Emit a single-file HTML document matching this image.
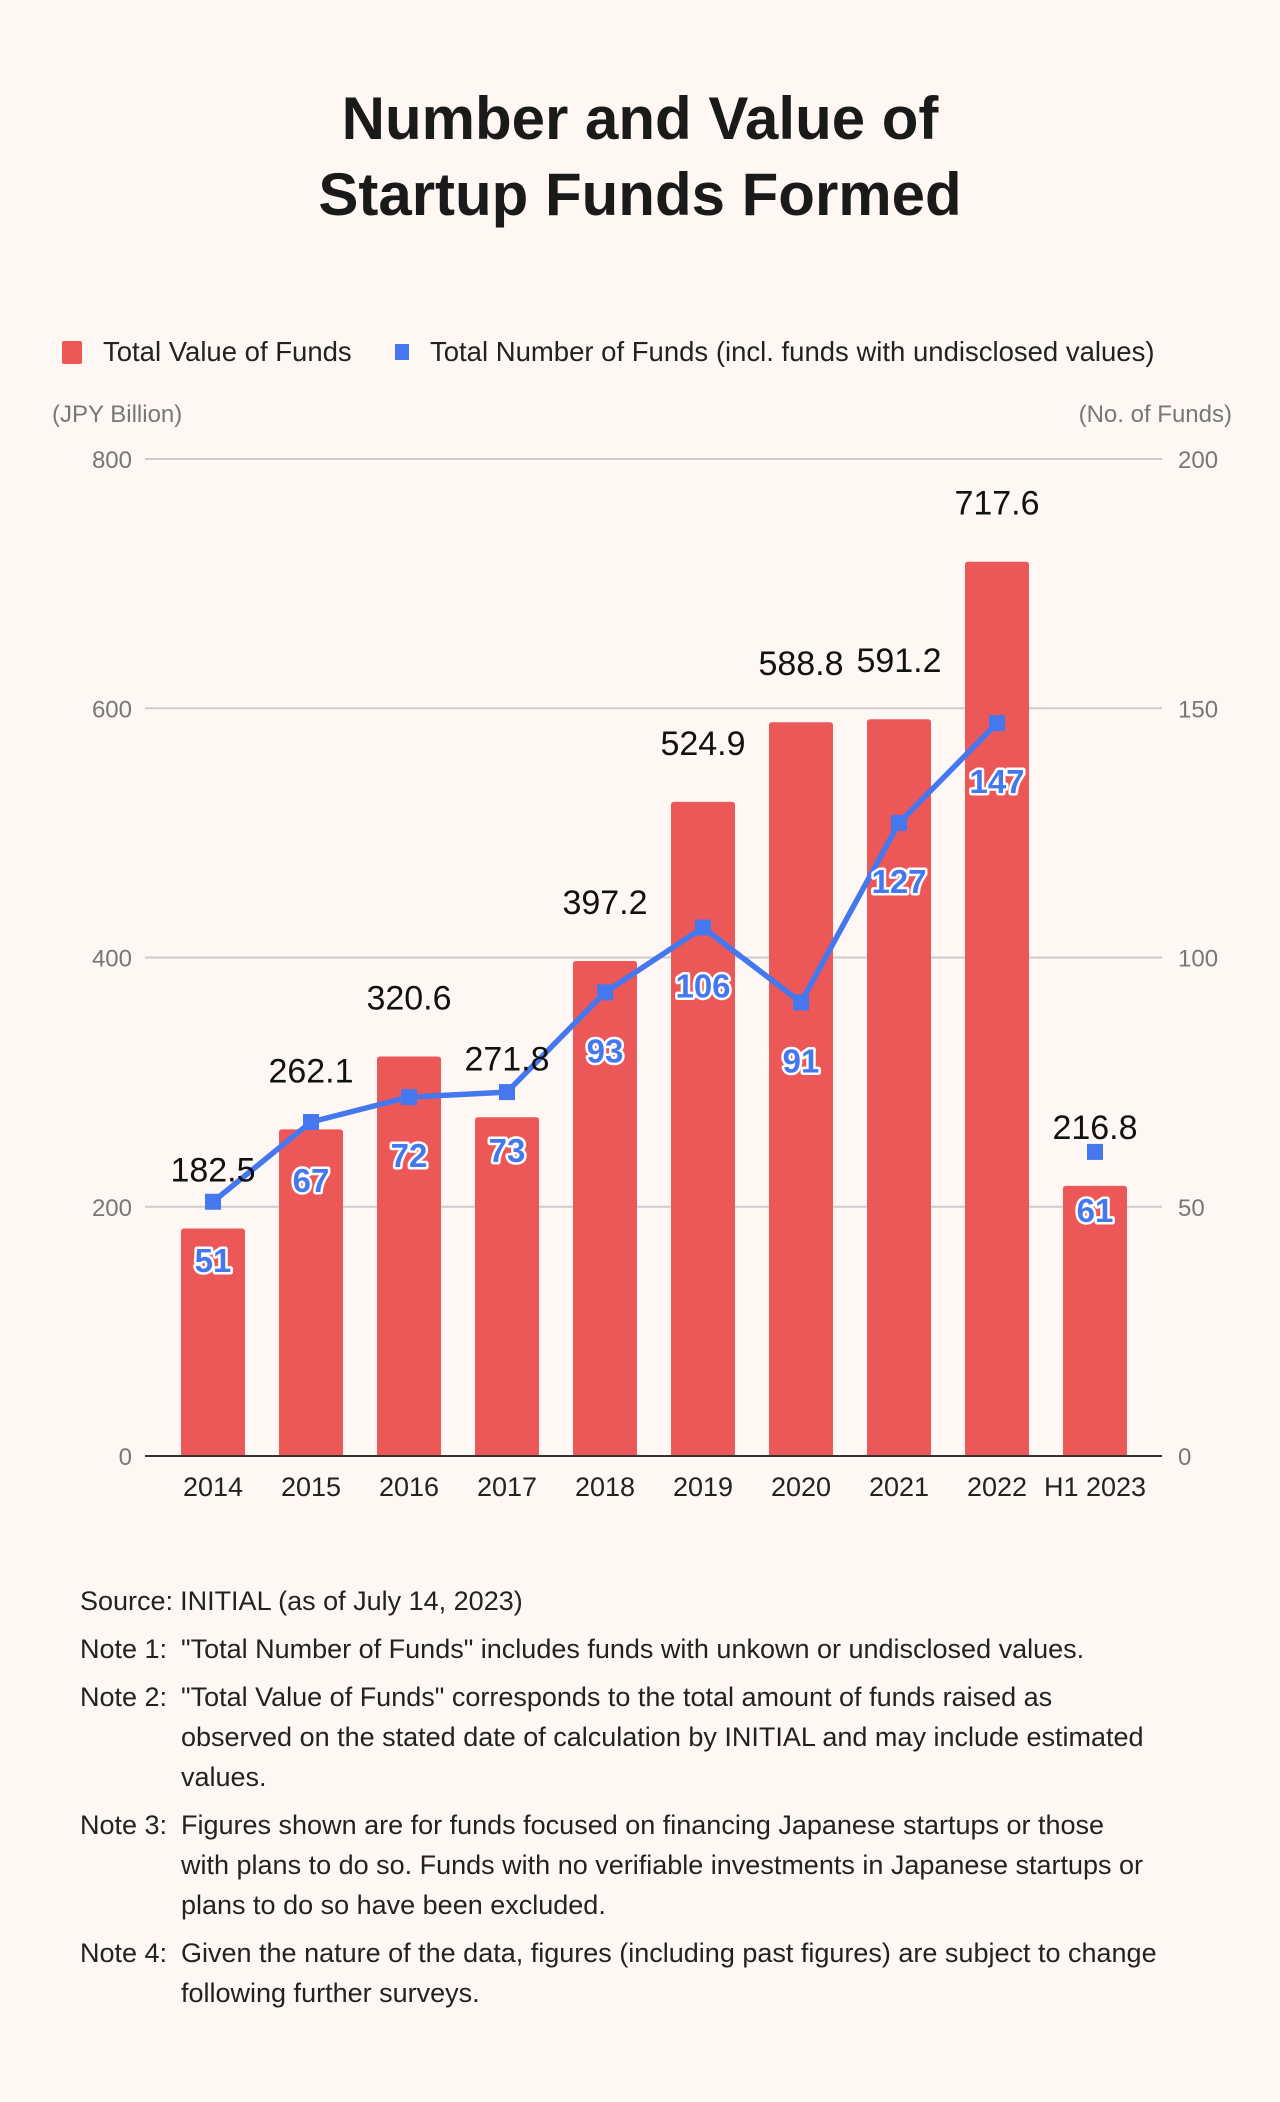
<!DOCTYPE html>
<html><head><meta charset="utf-8">
<style>
html,body{margin:0;padding:0;background:#fff7f4;}
body{width:1280px;height:2102px;position:relative;font-family:"Liberation Sans",sans-serif;color:#222;overflow:hidden;}
.notes{position:absolute;left:80px;top:1581px;font-size:27px;color:#222;width:1180px;}
.note{display:flex;margin-bottom:8px;line-height:40px;}
.note .lab{width:101px;flex:none;white-space:nowrap;}
.note .txt{white-space:nowrap;}
</style></head>
<body>
<svg id="chart" width="1280" height="1560" style="position:absolute;left:0;top:0" font-family="Liberation Sans, sans-serif">
  <text x="640" y="139" text-anchor="middle" font-size="60" font-weight="bold" fill="#1a1a1a">Number and Value of</text>
  <text x="640" y="215" text-anchor="middle" font-size="60" font-weight="bold" fill="#1a1a1a">Startup Funds Formed</text>
  <g>
    <rect x="62" y="341" width="20" height="23" rx="2" fill="#ec5858"/>
    <text x="103" y="361" font-size="27.5" fill="#222">Total Value of Funds</text>
    <rect x="395" y="344" width="14" height="16" fill="#4578ee"/>
    <text x="430" y="361" font-size="27.5" fill="#222">Total Number of Funds (incl. funds with undisclosed values)</text>
  </g>
  <text x="52" y="422" font-size="24" fill="#777">(JPY Billion)</text>
  <text x="1232" y="422" text-anchor="end" font-size="24" fill="#777">(No. of Funds)</text>
  <g id="grid"></g>
  <g id="bars"></g>
  <g id="line"></g>
  <g id="labels"></g>
</svg>
<div class="notes">
  <div class="note"><span class="lab" style="width:auto;margin-right:7px">Source:</span><span>INITIAL (as of July 14, 2023)</span></div>
  <div class="note"><span class="lab">Note 1:</span><span class="txt">"Total Number of Funds" includes funds with unkown or undisclosed values.</span></div>
  <div class="note"><span class="lab">Note 2:</span><span class="txt">"Total Value of Funds" corresponds to the total amount of funds raised as<br>observed on the stated date of calculation by INITIAL and may include estimated<br>values.</span></div>
  <div class="note"><span class="lab">Note 3:</span><span class="txt">Figures shown are for funds focused on financing Japanese startups or those<br>with plans to do so. Funds with no verifiable investments in Japanese startups or<br>plans to do so have been excluded.</span></div>
  <div class="note"><span class="lab">Note 4:</span><span class="txt">Given the nature of the data, figures (including past figures) are subject to change<br>following further surveys.</span></div>
</div>
<script>
const categories = ["2014","2015","2016","2017","2018","2019","2020","2021","2022","H1 2023"];
const values = [182.5,262.1,320.6,271.8,397.2,524.9,588.8,591.2,717.6,216.8];
const counts = [51,67,72,73,93,106,91,127,147,61];
const leftTicks = [0,200,400,600,800];
const rightTicks = [0,50,100,150,200];

const NS="http://www.w3.org/2000/svg";
const X0=164, BAND=98, TOP=459, BOT=1456;
const xc = i => X0 + BAND*i + BAND/2;
const yL = v => BOT - (v/800)*(BOT-TOP);
const yR = v => BOT - (v/200)*(BOT-TOP);
function mk(tag, attrs, parent){const e=document.createElementNS(NS,tag);for(const k in attrs)e.setAttribute(k,attrs[k]);parent.appendChild(e);return e;}

const grid=document.getElementById('grid');
leftTicks.forEach((t,i)=>{
  const y=yL(t);
  if(t>0){const l=mk('line',{x1:145,x2:1162,y1:y,y2:y,stroke:'#cccccc','stroke-width':2},grid);
  
  }
  const a=mk('text',{x:132,y:y+9,'text-anchor':'end','font-size':24,fill:'#777'},grid);a.textContent=t;
  
  
  const b=mk('text',{x:1178,y:yR(rightTicks[i])+9,'font-size':24,fill:'#777'},grid);b.textContent=rightTicks[i];
  
  
});
const bars=document.getElementById('bars');
categories.forEach((c,i)=>{
  const y=yL(values[i]);
  const r=mk('path',{d:`M${xc(i)-32},${BOT} V${y+3} Q${xc(i)-32},${y} ${xc(i)-29},${y} H${xc(i)+29} Q${xc(i)+32},${y} ${xc(i)+32},${y+3} V${BOT} Z`,fill:'#ec5858'},bars);
  
  
  const t=mk('text',{x:xc(i),y:1496,'text-anchor':'middle','font-size':27,fill:'#222'},bars);t.textContent=c;
  
  
});
const ax=mk('line',{x1:145,x2:1162,y1:BOT,y2:BOT,stroke:'#333','stroke-width':2},bars);



const line=document.getElementById('line');
let d='';
for(let i=0;i<9;i++){d+=(i?'L':'M')+xc(i)+','+yR(counts[i]);}
const p=mk('path',{d:d,fill:'none',stroke:'#4578ee','stroke-width':5.5,'stroke-linejoin':'round'},line);


counts.forEach((v,i)=>{
  const m=mk('rect',{x:xc(i)-8,y:yR(v)-8,width:16,height:16,fill:'#4578ee'},line);
  
  
});
const labels=document.getElementById('labels');
values.forEach((v,i)=>{
  const t=mk('text',{x:xc(i),y:yL(v)-47,'text-anchor':'middle','font-size':34,fill:'#111'},labels);t.textContent=v.toFixed(1);
  
  
});
counts.forEach((v,i)=>{
  const t=mk('text',{x:xc(i),y:yR(v)+70,'text-anchor':'middle','font-size':33,'font-weight':'bold',fill:'#4578ee',stroke:'#fff','stroke-width':5,'paint-order':'stroke','stroke-linejoin':'round'},labels);t.textContent=v;
  
  
});
</script>
</body></html>
